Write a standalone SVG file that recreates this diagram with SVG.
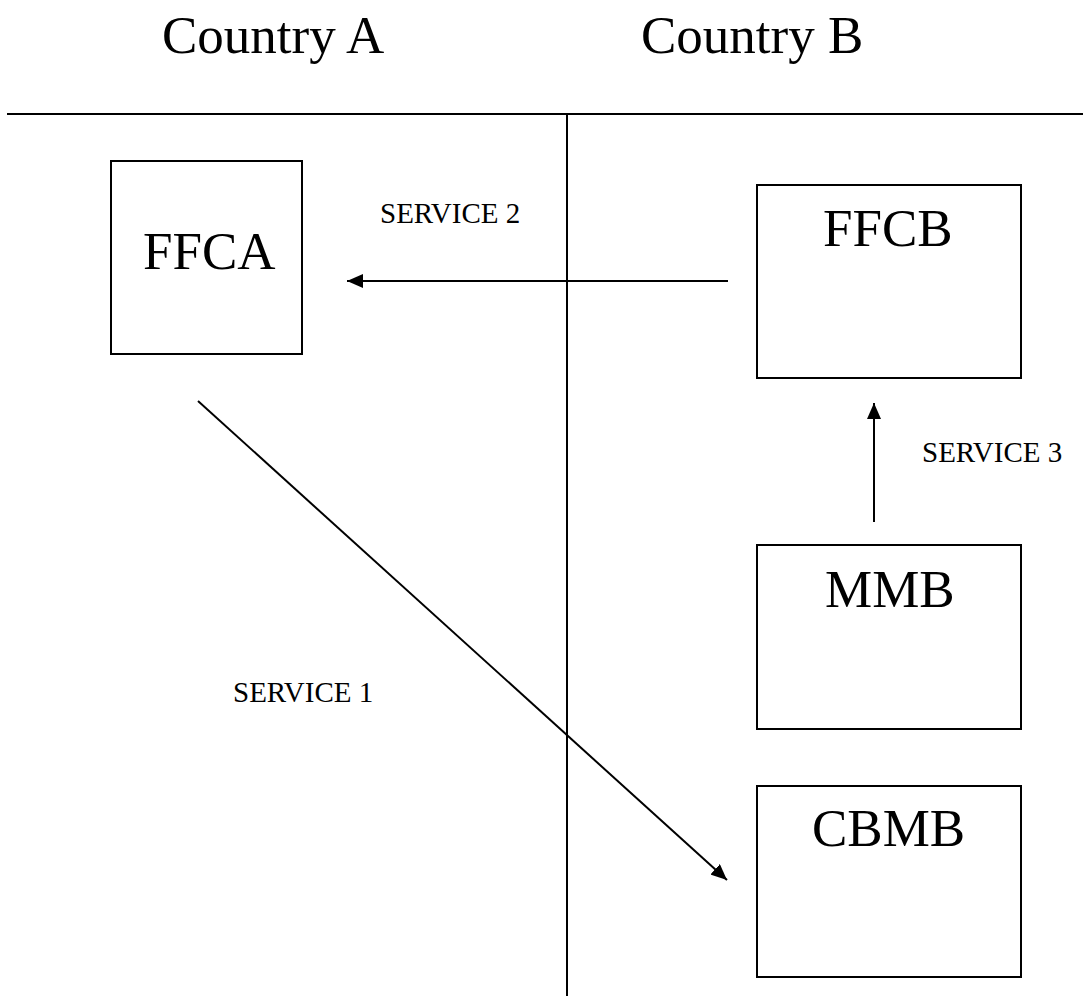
<svg xmlns="http://www.w3.org/2000/svg" width="1083" height="996" viewBox="0 0 1083 996">
  <style>
    .box { fill: #fff; stroke: #000; stroke-width: 2; }
    .line { stroke: #000; stroke-width: 2; fill: none; }
    .big { font-family: "Liberation Serif", "Times New Roman", serif; font-size: 53px; fill: #000; }
    .small { font-family: "Liberation Serif", "Times New Roman", serif; font-size: 29px; fill: #000; }
  </style>
  <defs>
    <marker id="arrow" viewBox="0 0 16 14" refX="16" refY="7" markerWidth="16" markerHeight="14" markerUnits="userSpaceOnUse" orient="auto">
      <path d="M0,0 L16,7 L0,14 Z" fill="#000"/>
    </marker>
  </defs>
  <rect width="1083" height="996" fill="#fff"/>

  <!-- column headings and borders -->
  <g id="headers">
    <text class="big" x="162" y="53">Country A</text>
    <text class="big" x="641" y="53">Country B</text>
    <line class="line" x1="7" y1="114" x2="1083" y2="114"/>
    <line class="line" x1="567" y1="114" x2="567" y2="996"/>
  </g>

  <g id="ffca">
    <rect class="box" x="111" y="161" width="191" height="193"/>
    <text class="big" x="143" y="269">FFCA</text>
  </g>

  <g id="ffcb">
    <rect class="box" x="757" y="185" width="264" height="193"/>
    <text class="big" x="823" y="246">FFCB</text>
  </g>

  <g id="mmb">
    <rect class="box" x="757" y="545" width="264" height="184"/>
    <text class="big" x="825" y="607">MMB</text>
  </g>

  <g id="cbmb">
    <rect class="box" x="757" y="786" width="264" height="191"/>
    <text class="big" x="812" y="846">CBMB</text>
  </g>

  <g id="connectors">
    <line class="line" x1="728" y1="281" x2="347" y2="281" marker-end="url(#arrow)"/>
    <line class="line" x1="874" y1="522" x2="874" y2="403" marker-end="url(#arrow)"/>
    <line class="line" x1="198" y1="401" x2="727" y2="880" marker-end="url(#arrow)"/>
    <text class="small" x="380" y="223">SERVICE 2</text>
    <text class="small" x="922" y="462">SERVICE 3</text>
    <text class="small" x="233" y="702">SERVICE 1</text>
  </g>
</svg>
